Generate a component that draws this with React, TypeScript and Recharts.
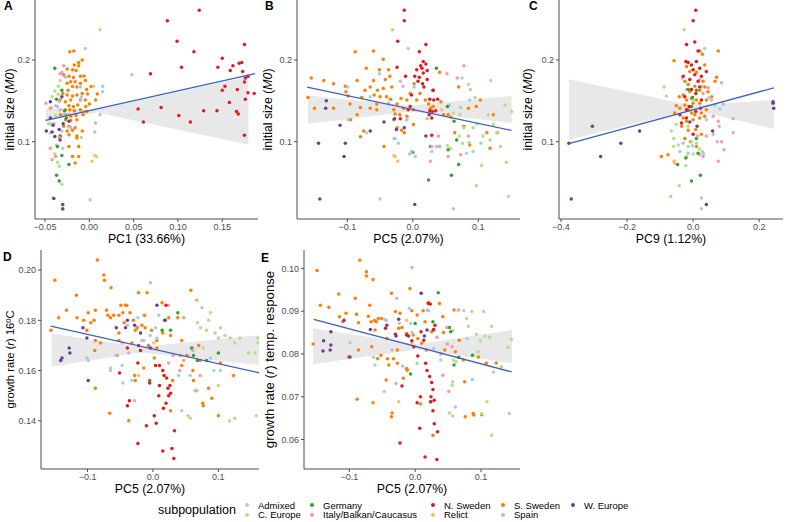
import { ComposedChart, XAxis, YAxis, Area, Scatter, Label } from "recharts";

type Pt = [number, number];
type Band = [number, number, number];

const groups = [
  "Admixed",
  "C. Europe",
  "Germany",
  "Italy/Balkan/Caucasus",
  "N. Sweden",
  "Relict",
  "S. Sweden",
  "Spain",
  "W. Europe",
];
const groupColors = ["#a6cee3", "#b2df8a", "#33a02c", "#fb9a99", "#e31a1c", "#fdbf6f", "#ff7f00", "#cab2d6", "#6a3d9a"];

// ---- A: initial size (M0) vs PC1
const aAdm: Pt[] = [[-0.0045,0.214],[0.048,0.182],[0.015,0.168],[0.015,0.161],[0.012,0.133],[-0.009,0.155],[-0.010,0.167],[-0.046,0.122],[-0.031,0.113],[0.001,0.029],[-0.030,0.017],[-0.034,0.149],[-0.038,0.144],[-0.029,0.133],[-0.022,0.118],[-0.030,0.092]];
const aCeu: Pt[] = [[-0.033,0.175],[-0.035,0.168],[-0.039,0.162],[-0.035,0.158],[-0.042,0.155],[-0.043,0.142],[-0.038,0.132],[-0.044,0.122],[-0.044,0.111],[-0.037,0.096],[-0.039,0.085],[-0.036,0.075],[-0.034,0.070],[-0.041,0.031],[-0.009,0.105],[-0.031,0.048]];
const aGer: Pt[] = [[-0.039,0.190],[-0.031,0.163],[-0.037,0.152],[-0.026,0.129],[-0.033,0.107],[-0.036,0.094],[-0.031,0.083],[-0.023,0.072],[-0.037,0.059],[-0.034,0.052],[-0.028,0.138]];
const aIta: Pt[] = [[-0.029,0.193],[-0.033,0.183],[-0.049,0.147],[-0.044,0.141],[-0.040,0.122],[-0.034,0.105],[-0.038,0.082],[-0.044,0.092],[-0.023,0.133],[-0.042,0.078]];
const aNsw: Pt[] = [[0.124,0.261],[0.088,0.248],[0.099,0.223],[0.118,0.210],[0.104,0.191],[0.069,0.183],[0.150,0.202],[0.145,0.191],[0.162,0.193],[0.159,0.187],[0.169,0.196],[0.172,0.197],[0.175,0.219],[0.173,0.186],[0.176,0.178],[0.179,0.180],[0.179,0.160],[0.153,0.168],[0.150,0.163],[0.158,0.148],[0.167,0.164],[0.176,0.152],[0.055,0.140],[0.081,0.142],[0.061,0.124],[0.101,0.132],[0.129,0.138],[0.144,0.138],[0.114,0.124],[0.166,0.137],[0.168,0.134],[0.175,0.108],[0.175,0.173],[0.186,0.159]];
const aRel: Pt[] = [[0.012,0.237],[0.003,0.076],[0.008,0.082],[0.006,0.083],[-0.006,0.137],[0.005,0.168]];
const aSsw: Pt[] = [[-0.022,0.210],[-0.0175,0.211],[-0.008,0.200],[-0.012,0.197],[-0.017,0.194],[-0.012,0.193],[-0.025,0.189],[-0.019,0.188],[-0.015,0.187],[-0.029,0.182],[-0.023,0.180],[-0.018,0.1785],[-0.010,0.180],[-0.006,0.1805],[-0.021,0.1735],[-0.016,0.1735],[-0.025,0.1715],[-0.010,0.1715],[-0.0045,0.175],[-0.019,0.1675],[-0.014,0.167],[-0.024,0.163],[-0.003,0.164],[0.002,0.1675],[-0.030,0.159],[-0.025,0.157],[-0.019,0.156],[-0.014,0.157],[-0.008,0.159],[-0.002,0.1585],[0.009,0.1585],[-0.033,0.151],[-0.027,0.149],[-0.021,0.151],[-0.010,0.151],[-0.0045,0.151],[-0.023,0.144],[-0.018,0.143],[-0.013,0.145],[-0.027,0.139],[-0.022,0.139],[-0.017,0.138],[-0.010,0.139],[-0.003,0.137],[-0.0325,0.133],[-0.027,0.133],[-0.021,0.131],[-0.015,0.132],[-0.007,0.133],[-0.027,0.127],[-0.021,0.126],[-0.014,0.127],[-0.029,0.119],[-0.023,0.119],[-0.016,0.117],[-0.025,0.113],[-0.019,0.114],[-0.008,0.113],[-0.0325,0.1065],[-0.023,0.1085],[-0.014,0.1045],[-0.023,0.094],[-0.012,0.094],[-0.019,0.082],[-0.012,0.082],[-0.016,0.074],[-0.014,0.107],[0.000,0.146],[0.007,0.151],[-0.004,0.143]];
const aSpa: Pt[] = [[-0.031,0.185],[-0.010,0.152],[0.007,0.123],[0.006,0.112],[-0.033,0.139],[-0.027,0.179],[-0.021,0.1175],[-0.036,0.143]];
const aWeu: Pt[] = [[-0.0485,0.113],[-0.041,0.120],[-0.044,0.129],[-0.042,0.112],[-0.039,0.1065],[-0.034,0.115],[-0.0295,0.122],[-0.033,0.102],[-0.040,0.0305],[-0.030,0.023],[-0.030,0.018],[-0.031,0.155],[-0.023,0.125],[-0.044,0.149]];
const fitA: Pt[] = [[-0.0493,0.126],[0.187,0.1832]];
const bandA: Band[] = [[-0.0493,0.1248,0.141],[0.0086,0.1358,0.139],[0.1795,0.0963,0.1797]];

// ---- B: initial size (M0) vs PC5
const bAdm: Pt[] = [[-0.007,0.214],[0.002,0.167],[-0.099,0.167],[-0.099,0.127],[-0.065,0.155],[-0.071,0.111],[-0.027,0.104],[-0.022,0.098],[0.004,0.082],[-0.005,0.085],[0.029,0.088],[0.056,0.145],[0.073,0.142],[0.075,0.178],[0.087,0.151],[0.104,0.098],[0.092,0.088],[-0.050,0.030],[0.062,0.018],[0.082,0.086],[0.036,0.094],[-0.051,0.183]];
const bCeu: Pt[] = [[0.062,0.135],[0.072,0.133],[0.078,0.117],[0.085,0.170],[0.088,0.164],[0.095,0.154],[0.092,0.117],[0.098,0.122],[0.119,0.175],[0.123,0.121],[0.128,0.111],[0.134,0.094],[0.141,0.145],[0.151,0.137],[0.146,0.033],[0.105,0.071],[0.097,0.046],[0.118,0.102],[0.107,0.107],[0.053,0.095],[0.058,0.092],[0.071,0.107],[0.076,0.098],[0.086,0.099],[0.115,0.133],[0.143,0.075]];
const bGer: Pt[] = [[0.036,0.190],[0.031,0.163],[0.053,0.143],[0.063,0.125],[0.067,0.102],[0.027,0.094],[0.000,0.087],[0.024,0.053],[0.059,0.059],[0.070,0.072],[0.054,0.090]];
const bIta: Pt[] = [[0.052,0.183],[0.078,0.193],[0.068,0.178],[0.039,0.107],[0.041,0.094],[0.027,0.076],[0.054,0.082],[0.073,0.084],[0.085,0.107],[0.029,0.094]];
const bNsw: Pt[] = [[-0.013,0.261],[-0.013,0.248],[-0.023,0.223],[0.020,0.219],[0.010,0.210],[-0.024,0.191],[0.016,0.198],[0.012,0.193],[0.020,0.195],[0.014,0.190],[0.006,0.188],[0.022,0.187],[0.016,0.184],[0.003,0.180],[0.010,0.179],[0.022,0.176],[0.015,0.171],[0.017,0.167],[0.031,0.163],[-0.011,0.180],[0.026,0.152],[0.032,0.151],[0.038,0.152],[0.026,0.138],[0.030,0.137],[0.035,0.138],[0.025,0.133],[0.029,0.129],[-0.004,0.143],[-0.007,0.139],[-0.019,0.128],[0.029,0.108],[0.008,0.174],[-0.002,0.157]];
const bRel: Pt[] = [[-0.031,0.237],[-0.029,0.083],[-0.027,0.082],[-0.023,0.076],[0.044,0.139]];
const bSsw: Pt[] = [[-0.160,0.154],[-0.155,0.178],[-0.150,0.141],[-0.136,0.175],[-0.121,0.171],[-0.121,0.141],[-0.103,0.168],[-0.102,0.161],[-0.099,0.156],[-0.096,0.146],[-0.088,0.210],[-0.085,0.175],[-0.080,0.142],[-0.078,0.154],[-0.073,0.163],[-0.071,0.190],[-0.065,0.167],[-0.065,0.141],[-0.060,0.211],[-0.060,0.175],[-0.059,0.157],[-0.055,0.146],[-0.054,0.163],[-0.051,0.188],[-0.050,0.155],[-0.045,0.165],[-0.042,0.176],[-0.040,0.155],[-0.037,0.188],[-0.045,0.201],[-0.035,0.180],[-0.032,0.167],[-0.034,0.152],[-0.029,0.139],[-0.027,0.134],[-0.024,0.146],[-0.020,0.133],[-0.014,0.141],[-0.018,0.153],[-0.009,0.151],[-0.004,0.159],[0.002,0.171],[0.011,0.159],[0.019,0.151],[0.024,0.146],[0.027,0.141],[0.031,0.143],[0.041,0.185],[0.043,0.149],[0.047,0.133],[0.054,0.133],[0.058,0.130],[0.064,0.111],[0.070,0.167],[0.078,0.119],[0.085,0.141],[0.087,0.096],[0.097,0.143],[0.103,0.151],[0.113,0.111],[0.118,0.092],[0.123,0.133],[0.129,0.111],[-0.095,0.127],[-0.075,0.113],[-0.080,0.106],[-0.044,0.094],[-0.029,0.127],[-0.024,0.117],[-0.009,0.131],[0.006,0.151],[0.001,0.139],[-0.055,0.139],[-0.085,0.133],[-0.028,0.104],[-0.013,0.111],[-0.017,0.114],[0.001,0.121],[0.037,0.094]];
const bSpa: Pt[] = [[-0.019,0.174],[-0.015,0.168],[-0.002,0.088],[0.022,0.128],[-0.037,0.147],[-0.009,0.127]];
const bWeu: Pt[] = [[-0.132,0.150],[-0.133,0.141],[-0.144,0.098],[-0.142,0.030],[-0.111,0.120],[-0.103,0.098],[-0.105,0.082],[-0.065,0.113],[-0.044,0.124],[-0.028,0.128],[-0.025,0.115],[0.003,0.023],[0.020,0.107],[-0.013,0.117]];
const fitB: Pt[] = [[-0.1614,0.1667],[0.1508,0.1138]];
const bandB: Band[] = [[-0.160,0.122,0.1565],[-0.004,0.137,0.1439],[0.151,0.1228,0.156]];

// ---- C: initial size (M0) vs PC9
const cAdm: Pt[] = [[0.035,0.214],[-0.033,0.178],[-0.020,0.164],[0.028,0.168],[0.048,0.154],[0.081,0.140],[0.066,0.145],[0.040,0.127],[0.061,0.109],[-0.030,0.098],[-0.015,0.086],[0.020,0.084],[0.025,0.031],[0.025,0.018],[-0.040,0.088],[-0.002,0.095],[0.032,0.085]];
const cCeu: Pt[] = [[-0.081,0.156],[-0.051,0.121],[-0.066,0.113],[-0.059,0.104],[-0.059,0.094],[-0.045,0.096],[-0.042,0.046],[-0.068,0.033],[-0.022,0.071],[-0.020,0.082],[-0.005,0.100],[0.010,0.098],[0.020,0.091],[0.028,0.088],[-0.056,0.076],[-0.015,0.094],[0.000,0.085],[0.000,0.151]];
const cGer: Pt[] = [[-0.005,0.052],[0.022,0.059],[-0.047,0.072],[-0.022,0.080],[-0.015,0.164],[-0.002,0.154],[0.010,0.163],[-0.005,0.143],[0.010,0.104],[0.015,0.086]];
const cIta: Pt[] = [[0.030,0.159],[0.045,0.166],[0.061,0.131],[0.076,0.125],[0.086,0.100],[0.093,0.090],[0.076,0.076],[0.030,0.082],[0.013,0.107],[0.040,0.107]];
const cNsw: Pt[] = [[0.008,0.261],[0.000,0.248],[-0.020,0.219],[0.005,0.222],[-0.022,0.198],[-0.015,0.197],[0.010,0.198],[-0.005,0.194],[0.000,0.188],[0.020,0.190],[0.025,0.180],[0.005,0.182],[-0.010,0.176],[0.015,0.174],[0.020,0.167],[-0.005,0.164],[0.008,0.159],[-0.025,0.155],[0.025,0.151],[-0.020,0.139],[-0.040,0.133],[-0.035,0.123],[-0.020,0.129],[0.008,0.137],[0.022,0.141],[-0.012,0.143],[0.000,0.109],[0.015,0.211],[-0.030,0.180],[0.040,0.186]];
const cRel: Pt[] = [[-0.027,0.237],[-0.088,0.167],[-0.058,0.076],[-0.056,0.074],[-0.015,0.119]];
const cSsw: Pt[] = [[-0.058,0.199],[0.076,0.211],[0.020,0.211],[0.028,0.207],[0.035,0.194],[-0.020,0.192],[-0.010,0.186],[0.010,0.185],[-0.025,0.174],[0.030,0.174],[-0.015,0.170],[0.005,0.168],[0.020,0.163],[0.035,0.167],[0.045,0.161],[-0.010,0.161],[-0.030,0.157],[-0.005,0.153],[0.010,0.151],[-0.051,0.144],[-0.025,0.145],[0.000,0.147],[0.020,0.147],[0.040,0.151],[0.071,0.179],[0.066,0.174],[-0.040,0.141],[-0.015,0.139],[-0.005,0.135],[0.005,0.133],[0.025,0.135],[-0.030,0.129],[-0.020,0.125],[0.000,0.127],[0.020,0.129],[0.035,0.131],[-0.035,0.119],[-0.015,0.114],[0.008,0.115],[0.025,0.109],[-0.008,0.100],[-0.025,0.104],[0.010,0.094],[-0.096,0.082],[-0.076,0.084],[-0.042,0.155],[0.056,0.155],[-0.056,0.135],[-0.020,0.151],[0.040,0.139]];
const cSpa: Pt[] = [[0.086,0.172],[0.091,0.146],[0.121,0.128],[0.121,0.111],[0.079,0.119],[0.073,0.100],[0.056,0.151],[0.020,0.176]];
const cWeu: Pt[] = [[-0.376,0.098],[-0.305,0.119],[-0.280,0.082],[-0.219,0.098],[-0.162,0.113],[-0.369,0.030],[0.242,0.149],[0.242,0.147],[0.244,0.141],[-0.010,0.124],[0.012,0.119],[0.040,0.023],[0.059,0.113]];
const fitC: Pt[] = [[-0.3758,0.0976],[0.2444,0.1659]];
const bandC: Band[] = [[-0.376,0.1024,0.1764],[0.0,0.139,0.1439],[0.244,0.1154,0.1512]];

// ---- D: growth rate (r) 16ºC vs PC5
const dAdm: Pt[] = [[-0.101,0.165],[-0.099,0.164],[-0.065,0.160],[-0.057,0.166],[-0.047,0.162],[-0.046,0.155],[-0.039,0.178],[-0.023,0.181],[-0.004,0.174],[0.004,0.177],[0.009,0.182],[0.006,0.173],[-0.014,0.172],[0.039,0.158],[0.057,0.158],[0.075,0.185],[0.061,0.169],[0.088,0.165],[0.103,0.160],[0.044,0.144],[-0.032,0.156],[-0.002,0.169]];
const dCeu: Pt[] = [[0.068,0.179],[0.073,0.177],[0.085,0.180],[0.088,0.183],[0.082,0.176],[0.095,0.175],[0.100,0.173],[0.103,0.177],[0.110,0.174],[0.118,0.173],[0.125,0.171],[0.133,0.173],[0.146,0.167],[0.156,0.167],[0.160,0.173],[0.161,0.171],[0.158,0.142],[0.125,0.141],[0.117,0.140],[0.100,0.154],[0.064,0.152],[0.054,0.142],[0.057,0.141],[0.077,0.169],[0.093,0.160]];
const dGer: Pt[] = [[0.038,0.183],[0.027,0.176],[0.014,0.176],[0.059,0.169],[0.062,0.166],[0.068,0.164],[0.100,0.167],[-0.005,0.156],[0.082,0.164]];
const dIta: Pt[] = [[0.047,0.181],[0.067,0.188],[0.061,0.168],[0.042,0.166],[0.047,0.164],[0.031,0.166],[0.024,0.163],[0.072,0.158],[0.041,0.160],[0.067,0.152]];
const dNsw: Pt[] = [[0.020,0.186],[-0.023,0.163],[-0.022,0.170],[-0.039,0.169],[-0.019,0.168],[0.004,0.162],[0.010,0.162],[0.015,0.160],[0.017,0.158],[0.021,0.157],[0.023,0.153],[0.026,0.154],[0.024,0.150],[0.027,0.151],[0.020,0.147],[0.016,0.145],[0.009,0.150],[0.010,0.154],[0.002,0.142],[-0.010,0.138],[-0.023,0.131],[0.015,0.128],[0.029,0.129],[0.032,0.125],[-0.036,0.148],[-0.039,0.146],[-0.051,0.159],[0.005,0.139],[0.033,0.136],[-0.005,0.155]];
const dRel: Pt[] = [[-0.022,0.158],[-0.065,0.161],[0.001,0.171]];
const dSsw: Pt[] = [[-0.156,0.176],[-0.150,0.196],[-0.144,0.181],[-0.132,0.184],[-0.117,0.190],[-0.116,0.181],[-0.106,0.180],[-0.101,0.176],[-0.099,0.183],[-0.095,0.179],[-0.090,0.180],[-0.088,0.184],[-0.085,0.204],[-0.089,0.168],[-0.088,0.172],[-0.075,0.198],[-0.074,0.196],[-0.071,0.184],[-0.069,0.182],[-0.065,0.181],[-0.060,0.182],[-0.064,0.193],[-0.052,0.175],[-0.052,0.182],[-0.049,0.186],[-0.042,0.186],[-0.046,0.183],[-0.040,0.186],[-0.044,0.179],[-0.035,0.183],[-0.030,0.180],[-0.027,0.176],[-0.024,0.177],[-0.022,0.191],[-0.017,0.178],[-0.014,0.161],[-0.013,0.182],[-0.012,0.177],[-0.009,0.191],[-0.007,0.170],[-0.002,0.176],[0.006,0.172],[0.014,0.187],[0.015,0.175],[0.019,0.180],[0.024,0.181],[0.027,0.174],[0.038,0.181],[0.044,0.172],[0.044,0.162],[0.052,0.166],[0.058,0.192],[0.061,0.160],[0.062,0.156],[0.070,0.170],[0.072,0.164],[0.076,0.147],[0.077,0.146],[0.085,0.153],[0.090,0.149],[0.100,0.142],[0.103,0.163],[0.123,0.158],[-0.066,0.143],[-0.037,0.140],[-0.052,0.172],[-0.032,0.171],[-0.080,0.171],[0.002,0.165],[0.006,0.169],[-0.055,0.166],[-0.027,0.156],[-0.028,0.158],[-0.088,0.153],[0.027,0.144],[0.030,0.156]];
const dSpa: Pt[] = [[-0.004,0.195],[-0.047,0.171],[-0.028,0.148],[0.024,0.186],[-0.017,0.172],[-0.037,0.167]];
const dWeu: Pt[] = [[-0.141,0.164],[-0.139,0.165],[-0.128,0.169],[-0.127,0.167],[-0.107,0.177],[-0.101,0.173],[-0.099,0.156],[-0.056,0.177],[-0.042,0.177],[-0.039,0.180],[-0.028,0.178],[0.006,0.186],[0.018,0.180],[-0.019,0.175],[-0.004,0.169]];
const fitD: Pt[] = [[-0.1563,0.1777],[0.1624,0.1591]];
const bandD: Band[] = [[-0.155,0.1615,0.1748],[-0.02,0.1672,0.1694],[0.162,0.1622,0.1741]];

// ---- E: growth rate (r) temp. response vs PC5
const eAdm: Pt[] = [[-0.099,0.0826],[-0.063,0.0792],[-0.061,0.0774],[-0.047,0.0712],[-0.047,0.0881],[-0.024,0.0871],[-0.007,0.0871],[-0.005,0.085],[0.003,0.0778],[0.010,0.0942],[0.018,0.0903],[-0.009,0.0906],[0.039,0.0786],[0.061,0.0676],[0.074,0.0901],[0.079,0.0836],[0.087,0.074],[0.028,0.0813]];
const eCeu: Pt[] = [[0.051,0.0862],[0.057,0.0854],[0.058,0.0786],[0.062,0.0782],[0.057,0.0735],[0.056,0.0727],[0.052,0.0662],[0.057,0.0655],[0.078,0.0883],[0.081,0.0865],[0.086,0.0899],[0.093,0.0846],[0.096,0.0805],[0.104,0.0899],[0.106,0.0842],[0.113,0.0839],[0.116,0.0865],[0.119,0.0758],[0.109,0.0688],[0.101,0.0661],[0.116,0.061],[0.143,0.0661],[0.146,0.0834],[0.141,0.0815],[0.131,0.077],[0.099,0.0831]];
const eGer: Pt[] = [[0.035,0.0943],[0.027,0.0875],[0.028,0.0856],[0.000,0.0871],[-0.007,0.0753],[0.052,0.0862],[0.054,0.0852],[0.059,0.0774],[0.066,0.0792],[0.087,0.0797],[0.023,0.0688]];
const eIta: Pt[] = [[0.048,0.0862],[0.049,0.0823],[0.066,0.0903],[0.042,0.075],[0.051,0.0712],[0.039,0.080],[0.056,0.0817],[0.033,0.0839]];
const eNsw: Pt[] = [[-0.045,0.086],[-0.023,0.0592],[-0.020,0.0725],[-0.013,0.0844],[-0.002,0.0817],[0.003,0.0686],[0.007,0.0626],[0.009,0.0852],[0.013,0.0832],[0.016,0.0778],[0.018,0.0761],[0.020,0.0918],[0.022,0.0747],[0.023,0.0917],[0.025,0.0733],[0.027,0.0717],[0.028,0.0857],[0.024,0.070],[0.024,0.0688],[0.030,0.0867],[0.029,0.0692],[0.027,0.0667],[0.029,0.0637],[0.034,0.0618],[0.015,0.0559],[0.033,0.0553],[0.008,0.070],[-0.005,0.0831],[-0.030,0.0846],[0.004,0.0795]];
const eRel: Pt[] = [[-0.025,0.0688],[-0.005,0.0825],[-0.013,0.0879]];
const eSsw: Pt[] = [[-0.155,0.0823],[-0.149,0.0995],[-0.144,0.0914],[-0.131,0.0909],[-0.116,0.094],[-0.115,0.0887],[-0.110,0.0875],[-0.105,0.0895],[-0.101,0.0793],[-0.091,0.093],[-0.089,0.0893],[-0.086,0.0873],[-0.088,0.0694],[-0.084,0.1019],[-0.086,0.0809],[-0.074,0.0992],[-0.074,0.0982],[-0.071,0.0888],[-0.067,0.0875],[-0.069,0.0914],[-0.064,0.0974],[-0.062,0.0878],[-0.061,0.0856],[-0.066,0.0817],[-0.064,0.0686],[-0.059,0.0875],[-0.056,0.0883],[-0.057,0.0789],[-0.051,0.0883],[-0.043,0.0836],[-0.042,0.0789],[-0.040,0.0774],[-0.044,0.0739],[-0.036,0.0942],[-0.035,0.0662],[-0.030,0.0899],[-0.025,0.086],[-0.027,0.0809],[-0.027,0.0778],[-0.023,0.0895],[-0.020,0.0862],[-0.018,0.0743],[-0.013,0.0766],[-0.012,0.0762],[-0.008,0.0953],[-0.005,0.0901],[-0.003,0.0844],[0.003,0.0891],[0.010,0.0825],[0.012,0.0901],[0.015,0.0875],[0.017,0.0809],[0.008,0.0683],[0.020,0.092],[0.025,0.0852],[0.037,0.0918],[0.042,0.0887],[0.027,0.061],[0.043,0.085],[0.045,0.0809],[0.059,0.0903],[0.061,0.0805],[0.067,0.0832],[0.073,0.0786],[0.075,0.0735],[0.076,0.0653],[0.088,0.0661],[0.089,0.0657],[0.096,0.0793],[0.101,0.0658],[0.108,0.0778],[0.123,0.0779],[-0.036,0.0653],[-0.052,0.0797],[-0.033,0.0789],[-0.013,0.0848],[0.004,0.0836]];
const eSpa: Pt[] = [[-0.005,0.1002],[-0.028,0.093],[-0.029,0.0731],[0.020,0.0901],[-0.019,0.0772],[-0.044,0.0879],[-0.035,0.0809]];
const eWeu: Pt[] = [[-0.139,0.0831],[-0.140,0.0807],[-0.129,0.0809],[-0.128,0.0821],[-0.128,0.0852],[-0.108,0.0879],[-0.099,0.0793],[-0.068,0.0857],[-0.043,0.0867],[-0.029,0.0842],[-0.025,0.0881],[0.009,0.0942],[0.014,0.0842],[0.018,0.0856],[-0.010,0.0842]];
const fitE: Pt[] = [[-0.154,0.0881],[0.1465,0.0758]];
const bandE: Band[] = [[-0.155,0.0776,0.086],[0.003,0.0811,0.0822],[0.147,0.0778,0.0856]];

const pc1Ticks = [-0.05, 0, 0.05, 0.1, 0.15];
const pc5Ticks = [-0.1, 0, 0.1];
const pc9Ticks = [-0.4, -0.2, 0, 0.2];
const m0Ticks = [0.1, 0.2];
const r16Ticks = [0.14, 0.16, 0.18, 0.2];
const rTempTicks = [0.06, 0.07, 0.08, 0.09, 0.1];

const FONT = "'Liberation Sans', Arial, Helvetica, sans-serif";
const AXIS = "#4d4d4d";
const BLUE = "#3a62c8";
const BAND = "#e8e8e8";

const fmt = (digits: number) => (v: number) =>
  (v < -1e-9 ? "\u2212" : "") + Math.abs(v).toFixed(digits);

type TitlePart = [string, boolean];

const m0Title: TitlePart[] = [["initial size (", false], ["M0", true], [")", false]];
const r16Title: TitlePart[] = [["growth rate (", false], ["r", true], [") 16ºC", false]];
const rTempTitle: TitlePart[] = [["growth rate (", false], ["r", true], [") temp. response", false]];

type PanelDef = {
  letter: string;
  left: number;
  top: number;
  width: number;
  yAxisWidth: number;
  xDomain: [number, number];
  yDomain: [number, number];
  xTicks: number[];
  yTicks: number[];
  xDigits: number;
  yDigits: number;
  series: Pt[][];
  fit: Pt[];
  band: Band[];
  xTitle: string;
  yTitle: TitlePart[];
  yTitleDx: number;
  yTitleSize: number;
  letterPos: [number, number];
};

const panels: PanelDef[] = [
  {
    letter: "A", left: 0, top: 0, width: 258, yAxisWidth: 35,
    xDomain: [-0.0613, 0.1903], yDomain: [0.0054, 0.2734],
    xTicks: pc1Ticks, yTicks: m0Ticks, xDigits: 2, yDigits: 1,
    series: [aAdm, aCeu, aGer, aIta, aNsw, aRel, aSsw, aSpa, aWeu],
    fit: fitA, band: bandA, xTitle: "PC1 (33.66%)", yTitle: m0Title,
    yTitleDx: -25, yTitleSize: 12.3, letterPos: [4, 0],
  },
  {
    letter: "B", left: 255, top: 0, width: 265, yAxisWidth: 42,
    xDomain: [-0.1768, 0.1637], yDomain: [0.0054, 0.2734],
    xTicks: pc5Ticks, yTicks: m0Ticks, xDigits: 1, yDigits: 1,
    series: [bAdm, bCeu, bGer, bIta, bNsw, bRel, bSsw, bSpa, bWeu],
    fit: fitB, band: bandB, xTitle: "PC5 (2.07%)", yTitle: m0Title,
    yTitleDx: -29, yTitleSize: 12.3, letterPos: [265, 0],
  },
  {
    letter: "C", left: 514, top: 0, width: 269, yAxisWidth: 45,
    xDomain: [-0.406, 0.272], yDomain: [0.0054, 0.2734],
    xTicks: pc9Ticks, yTicks: m0Ticks, xDigits: 1, yDigits: 1,
    series: [cAdm, cCeu, cGer, cIta, cNsw, cRel, cSsw, cSpa, cWeu],
    fit: fitC, band: bandC, xTitle: "PC9 (1.12%)", yTitle: m0Title,
    yTitleDx: -31, yTitleSize: 12.3, letterPos: [529, 0],
  },
  {
    letter: "D", left: 0, top: 250, width: 259, yAxisWidth: 41,
    xDomain: [-0.1711, 0.1621], yDomain: [0.1208, 0.208],
    xTicks: pc5Ticks, yTicks: r16Ticks, xDigits: 1, yDigits: 2,
    series: [dAdm, dCeu, dGer, dIta, dNsw, dRel, dSsw, dSpa, dWeu],
    fit: fitD, band: bandD, xTitle: "PC5 (2.07%)", yTitle: r16Title,
    yTitleDx: -31.5, yTitleSize: 11.2, letterPos: [3, 251],
  },
  {
    letter: "E", left: 255, top: 250, width: 265, yAxisWidth: 49,
    xDomain: [-0.1688, 0.1592], yDomain: [0.0531, 0.1043],
    xTicks: pc5Ticks, yTicks: rTempTicks, xDigits: 1, yDigits: 2,
    series: [eAdm, eCeu, eGer, eIta, eNsw, eRel, eSsw, eSpa, eWeu],
    fit: fitE, band: bandE, xTitle: "PC5 (2.07%)", yTitle: rTempTitle,
    yTitleDx: -35.5, yTitleSize: 13.2, letterPos: [261, 252],
  },
];

// draw S. Sweden first so the smaller groups stay visible on top
const drawOrder = [6, 0, 1, 2, 3, 5, 7, 8, 4];

const tickStyle = { fontSize: 9, fill: AXIS, fontFamily: FONT };

function Panel({ p }: { p: PanelDef }) {
  const rows = p.band.map(([x, lo, hi]) => ({ x, band: [lo, hi] }));
  const fitRows = p.fit.map(([x, y]) => ({ x, y }));

  const xTitle = (props: any) => {
    const vb = props.viewBox;
    return (
      <text x={vb.x + vb.width / 2} y={vb.y + 23.5} textAnchor="middle" fontSize={12.3} fontFamily={FONT} fill="#000">
        {p.xTitle}
      </text>
    );
  };
  const yTitle = (props: any) => {
    const vb = props.viewBox;
    const cx = vb.x + vb.width + p.yTitleDx;
    const cy = vb.y + vb.height / 2;
    return (
      <text
        x={cx}
        y={cy}
        transform={`rotate(-90 ${cx} ${cy})`}
        textAnchor="middle"
        dominantBaseline="central"
        fontSize={p.yTitleSize}
        fontFamily={FONT}
        fill="#000"
      >
        {p.yTitle.map(([t, it], i) => (
          <tspan key={i} fontStyle={it ? "italic" : "normal"}>
            {t}
          </tspan>
        ))}
      </text>
    );
  };

  return (
    <div style={{ position: "absolute", left: p.left, top: p.top }}>
      <ComposedChart width={p.width} height={249} data={rows} margin={{ top: 0, right: 0, bottom: 0, left: 0 }}>
        <XAxis
          dataKey="x"
          type="number"
          domain={p.xDomain}
          ticks={p.xTicks}
          tickFormatter={fmt(p.xDigits)}
          allowDataOverflow
          height={30}
          tickSize={3}
          tickMargin={2}
          axisLine={{ stroke: AXIS, strokeWidth: 1 }}
          tickLine={{ stroke: AXIS }}
          tick={tickStyle}
        >
          <Label content={xTitle} />
        </XAxis>
        <YAxis
          type="number"
          domain={p.yDomain}
          ticks={p.yTicks}
          tickFormatter={fmt(p.yDigits)}
          allowDataOverflow
          width={p.yAxisWidth}
          tickSize={3}
          tickMargin={2}
          axisLine={{ stroke: AXIS, strokeWidth: 1 }}
          tickLine={{ stroke: AXIS }}
          tick={tickStyle}
        >
          <Label content={yTitle} />
        </YAxis>
        <Area
          dataKey="band"
          type="linear"
          stroke="none"
          fill={BAND}
          fillOpacity={1}
          isAnimationActive={false}
        />
        {drawOrder.map((g) => (
          <Scatter
            key={groups[g]}
            name={groups[g]}
            data={p.series[g].map(([x, y]) => ({ x, y }))}
            dataKey="y"
            fill={groupColors[g]}
            isAnimationActive={false}
            shape={(s: any) => <circle cx={s.cx} cy={s.cy} r={1.75} fill={groupColors[g]} />}
          />
        ))}
        <Scatter
          data={fitRows}
          dataKey="y"
          line={{ stroke: BLUE, strokeWidth: 1.3 }}
          shape={() => <g />}
          isAnimationActive={false}
        />
      </ComposedChart>
    </div>
  );
}

const legendDotX = [247, 312, 433, 503, 573];
const legendRowY = [505, 514.5];

export default function App() {
  return (
    <div
      style={{
        position: "absolute",
        left: 0,
        top: 0,
        width: 787,
        height: 522,
        background: "#fff",
        fontFamily: FONT,
        overflow: "hidden",
      }}
    >
      {panels.map((p) => (
        <Panel key={p.letter} p={p} />
      ))}
      {panels.map((p) => (
        <div
          key={"l" + p.letter}
          style={{
            position: "absolute",
            left: p.letterPos[0],
            top: p.letterPos[1],
            fontSize: 12,
            lineHeight: "12px",
            fontWeight: "bold",
            color: "#000",
          }}
        >
          {p.letter}
        </div>
      ))}
      <div style={{ position: "absolute", left: 158, top: 503, fontSize: 12.5, lineHeight: "15px", color: "#000" }}>
        subpopulation
      </div>
      {groups.map((g, i) => {
        const col = Math.floor(i / 2);
        const row = i % 2;
        const cx = legendDotX[col];
        const cy = legendRowY[row];
        return (
          <div key={g}>
            <div
              style={{
                position: "absolute",
                left: cx - 2,
                top: cy - 2,
                width: 4,
                height: 4,
                borderRadius: 2,
                background: groupColors[i],
              }}
            />
            <div
              style={{
                position: "absolute",
                left: cx + 11,
                top: cy - 5.5,
                fontSize: 9.5,
                lineHeight: "11px",
                color: "#000",
                whiteSpace: "nowrap",
              }}
            >
              {g}
            </div>
          </div>
        );
      })}
    </div>
  );
}
